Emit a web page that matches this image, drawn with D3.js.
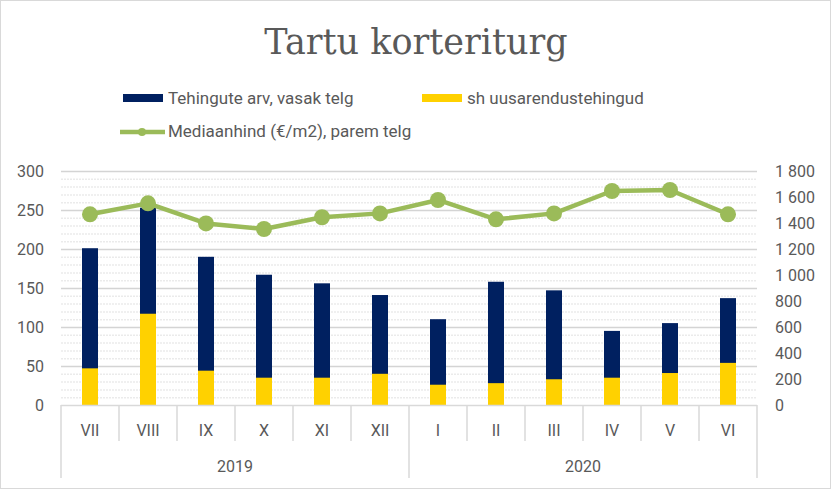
<!DOCTYPE html>
<html><head><meta charset="utf-8">
<script src="https://cdn.jsdelivr.net/npm/d3@7"></script>
<style>body{margin:0;background:#fff;} svg{display:block;}</style>
</head><body>
<script>
const months = ["VII","VIII","IX","X","XI","XII","I","II","III","IV","V","VI"];
const years = [{label:"2019", from:0, to:6},{label:"2020", from:6, to:12}];
const tehingud = [201,253,190,167,156,141,110,158,147,95,105,137];
const uusarendus = [47,117,44,35,35,40,26,28,33,35,41,54];
const mediaan = [1467,1551,1397,1354,1444,1474,1577,1428,1474,1646,1654,1467];
const leftTicks = [0,50,100,150,200,250,300];
const rightTicks = [0,200,400,600,800,1000,1200,1400,1600,1800];

const W=831,H=489;
const svg=d3.select("body").append("svg").attr("width",W).attr("height",H);
const font="Roboto, 'Liberation Sans', sans-serif";
const grey="#595959";
svg.append("rect").attr("x",0.5).attr("y",0.5).attr("width",W-1).attr("height",H-1).attr("fill","#fff").attr("stroke","#d9d9d9");

const x=d3.scaleBand().domain(months).range([61,757]).padding(0);
const yL=d3.scaleLinear().domain([0,300]).range([405,171]);
const yR=d3.scaleLinear().domain([0,1800]).range([405,171]);

// minor gridlines
const minor=d3.range(10,300,10).filter(v=>v%50!==0);
svg.append("g").selectAll("line").data(minor).join("line")
 .attr("x1",61).attr("x2",757).attr("y1",d=>yL(d)+0.5).attr("y2",d=>yL(d)+0.5)
 .attr("stroke","#ebebeb").attr("stroke-width",1.5).attr("stroke-dasharray","2,1");
svg.append("g").selectAll("line").data(leftTicks.slice(1)).join("line")
 .attr("x1",61).attr("x2",757).attr("y1",d=>yL(d)+0.5).attr("y2",d=>yL(d)+0.5)
 .attr("stroke","#d4d4d4").attr("stroke-width",1.5);

// Left axis
const gL=svg.append("g").attr("transform","translate(44,0)").call(d3.axisLeft(yL).tickValues(leftTicks).tickSize(0).tickPadding(0));
gL.select(".domain").remove();
gL.selectAll("text").attr("font-family",font).attr("font-size",16).attr("fill",grey);
// Right axis
const loc=d3.formatLocale({decimal:",",thousands:"\u2009",grouping:[3],currency:["",""]});
const fmt=loc.format(",");
const gR=svg.append("g").attr("transform","translate(775,0)").call(d3.axisRight(yR).tickValues(rightTicks).tickFormat(d=>fmt(d).replace("\u2009"," ")).tickSize(0).tickPadding(0));
gR.select(".domain").remove();
gR.selectAll("text").attr("font-family",font).attr("font-size",16).attr("fill",grey);

// Bars
const bw=16;
svg.append("g").selectAll("rect").data(months).join("rect")
 .attr("x",(d)=>x(d)+x.bandwidth()/2-bw/2).attr("width",bw)
 .attr("y",(d,i)=>yL(tehingud[i])).attr("height",(d,i)=>yL(0)-yL(tehingud[i]))
 .attr("fill","#002060");
svg.append("g").selectAll("rect").data(months).join("rect")
 .attr("x",(d)=>x(d)+x.bandwidth()/2-bw/2).attr("width",bw)
 .attr("y",(d,i)=>yL(uusarendus[i])).attr("height",(d,i)=>yL(0)-yL(uusarendus[i]))
 .attr("fill","#FFD100");

// X axis
svg.append("line").attr("x1",61).attr("x2",757).attr("y1",405.5).attr("y2",405.5).attr("stroke","#d9d9d9").attr("stroke-width",1.5);
const bounds=d3.range(0,13);
svg.append("g").selectAll("line").data(bounds).join("line")
 .attr("x1",i=>(i<12?x(months[i]):757)).attr("x2",i=>(i<12?x(months[i]):757))
 .attr("y1",405).attr("y2",i=>(i%6===0?478:441))
 .attr("stroke","#d9d9d9").attr("stroke-width",1.5);
svg.append("g").selectAll("text").data(months).join("text")
 .attr("x",d=>x(d)+x.bandwidth()/2).attr("y",430).attr("dy","0.35em")
 .attr("text-anchor","middle").attr("font-family",font).attr("font-size",16).attr("fill",grey).text(d=>d);
svg.append("g").selectAll("text").data(years).join("text")
 .attr("x",d=>(x(months[d.from])+(d.to<12?x(months[d.to]):757))/2).attr("y",466).attr("dy","0.35em")
 .attr("text-anchor","middle").attr("font-family",font).attr("font-size",16).attr("fill",grey).text(d=>d.label);

// Line
const line=d3.line().x((d,i)=>x(months[i])+x.bandwidth()/2).y(d=>yR(d));
svg.append("path").datum(mediaan).attr("d",line).attr("fill","none").attr("stroke","#9BBB59").attr("stroke-width",4.5).attr("stroke-linejoin","round");
svg.append("g").selectAll("circle").data(mediaan).join("circle")
 .attr("cx",(d,i)=>x(months[i])+x.bandwidth()/2).attr("cy",d=>yR(d)).attr("r",8).attr("fill","#9BBB59");

// Title
svg.append("text").attr("x",416).attr("y",54).attr("text-anchor","middle")
 .attr("font-family","'DejaVu Serif', 'Liberation Serif', serif").attr("font-size",35).attr("fill",grey).text("Tartu korteriturg");

// Legend
const lg=svg.append("g").attr("font-family",font).attr("font-size",17).attr("fill",grey);
lg.append("rect").attr("x",123).attr("y",94).attr("width",40).attr("height",8).attr("fill","#002060");
lg.append("text").attr("x",168).attr("y",98).attr("dy","0.35em").text("Tehingute arv, vasak telg");
lg.append("rect").attr("x",422).attr("y",94).attr("width",40).attr("height",8).attr("fill","#FFD100");
lg.append("text").attr("x",467).attr("y",98).attr("dy","0.35em").text("sh uusarendustehingud");
lg.append("line").attr("x1",120).attr("x2",165).attr("y1",132).attr("y2",132).attr("stroke","#9BBB59").attr("stroke-width",4.5);
lg.append("circle").attr("cx",142).attr("cy",132).attr("r",4).attr("fill","#9BBB59");
lg.append("text").attr("x",168).attr("y",131).attr("dy","0.35em").text("Mediaanhind (€/m2), parem telg");
</script>
</body></html>
